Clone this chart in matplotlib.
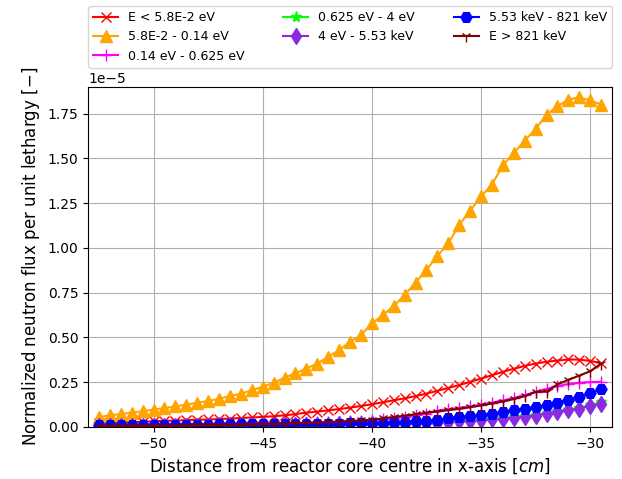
import numpy as np
import matplotlib
matplotlib.use('Agg')
import matplotlib.pyplot as plt

# distance from core centre [cm]
x_cm = [-52.5, -52.0, -51.5, -51.0, -50.5, -50.0, -49.5, -49.0, -48.5, -48.0,
        -47.5, -47.0, -46.5, -46.0, -45.5, -45.0, -44.5, -44.0, -43.5, -43.0,
        -42.5, -42.0, -41.5, -41.0, -40.5, -40.0, -39.5, -39.0, -38.5, -38.0,
        -37.5, -37.0, -36.5, -36.0, -35.5, -35.0, -34.5, -34.0, -33.5, -33.0,
        -32.5, -32.0, -31.5, -31.0, -30.5, -30.0, -29.5]

# flux values in units of 1e-5
flux_g1 = [0.022, 0.023, 0.025, 0.027, 0.029, 0.032, 0.034, 0.036, 0.038, 0.040,
           0.042, 0.044, 0.047, 0.050, 0.053, 0.056, 0.060, 0.065, 0.072, 0.080,
           0.086, 0.093, 0.100, 0.108, 0.117, 0.127, 0.138, 0.149, 0.160, 0.172,
           0.186, 0.202, 0.218, 0.234, 0.252, 0.270, 0.289, 0.308, 0.325, 0.341,
           0.354, 0.364, 0.371, 0.377, 0.376, 0.369, 0.356]
flux_g2 = [0.055, 0.065, 0.072, 0.080, 0.088, 0.097, 0.106, 0.115, 0.125, 0.135,
           0.145, 0.158, 0.172, 0.186, 0.205, 0.225, 0.246, 0.275, 0.300, 0.326,
           0.354, 0.392, 0.429, 0.476, 0.513, 0.578, 0.625, 0.675, 0.737, 0.806,
           0.877, 0.955, 1.026, 1.129, 1.207, 1.287, 1.353, 1.461, 1.530, 1.599,
           1.664, 1.744, 1.791, 1.828, 1.841, 1.823, 1.800]
flux_g3 = [0.008, 0.008, 0.009, 0.009, 0.010, 0.010, 0.011, 0.011, 0.012, 0.012,
           0.013, 0.013, 0.014, 0.015, 0.016, 0.017, 0.018, 0.020, 0.022, 0.024,
           0.026, 0.028, 0.030, 0.033, 0.035, 0.038, 0.044, 0.050, 0.057, 0.065,
           0.074, 0.092, 0.099, 0.107, 0.115, 0.125, 0.136, 0.148, 0.162, 0.178,
           0.195, 0.212, 0.228, 0.240, 0.247, 0.251, 0.252]
flux_g4 = [0.007, 0.007, 0.007, 0.008, 0.008, 0.008, 0.008, 0.009, 0.009, 0.009,
           0.009, 0.010, 0.010, 0.010, 0.011, 0.011, 0.011, 0.012, 0.012, 0.013,
           0.013, 0.014, 0.015, 0.015, 0.016, 0.017, 0.018, 0.019, 0.021, 0.022,
           0.024, 0.026, 0.029, 0.032, 0.036, 0.040, 0.045, 0.050, 0.056, 0.062,
           0.069, 0.078, 0.087, 0.097, 0.108, 0.122, 0.138]
flux_g5 = [0.006, 0.006, 0.006, 0.007, 0.007, 0.007, 0.007, 0.008, 0.008, 0.008,
           0.008, 0.009, 0.009, 0.009, 0.010, 0.010, 0.010, 0.011, 0.011, 0.012,
           0.012, 0.013, 0.014, 0.014, 0.015, 0.016, 0.017, 0.018, 0.019, 0.021,
           0.023, 0.025, 0.028, 0.031, 0.034, 0.037, 0.042, 0.047, 0.052, 0.056,
           0.064, 0.075, 0.084, 0.093, 0.103, 0.118, 0.131]
flux_g6 = [0.012, 0.012, 0.012, 0.012, 0.012, 0.012, 0.012, 0.013, 0.013, 0.013,
           0.013, 0.014, 0.014, 0.014, 0.015, 0.015, 0.016, 0.016, 0.017, 0.017,
           0.018, 0.018, 0.019, 0.020, 0.021, 0.022, 0.024, 0.026, 0.029, 0.032,
           0.036, 0.041, 0.048, 0.054, 0.060, 0.067, 0.075, 0.084, 0.093, 0.103,
           0.112, 0.121, 0.136, 0.149, 0.168, 0.187, 0.211]
flux_g7 = [0.004, 0.004, 0.005, 0.005, 0.006, 0.006, 0.007, 0.007, 0.008, 0.009,
           0.009, 0.010, 0.011, 0.012, 0.013, 0.015, 0.016, 0.018, 0.020, 0.022,
           0.024, 0.027, 0.030, 0.033, 0.037, 0.041, 0.048, 0.056, 0.063, 0.071,
           0.080, 0.086, 0.094, 0.101, 0.110, 0.120, 0.131, 0.142, 0.156, 0.172,
           0.196, 0.197, 0.238, 0.263, 0.287, 0.311, 0.354]

labels = ['E < 5.8E-2 eV', '5.8E-2 - 0.14 eV', '0.14 eV - 0.625 eV',
          '0.625 eV - 4 eV', '4 eV - 5.53 keV', '5.53 keV - 821 keV',
          'E > 821 keV']

series = [flux_g1, flux_g2, flux_g3, flux_g4, flux_g5, flux_g6, flux_g7]
styles = [('red', 'x', 7), ('orange', '^', 8), ('magenta', '+', 8),
          ('lime', '*', 8), ('blueviolet', 'd', 8.5), ('blue', 'H', 8),
          ('maroon', '1', 8)]

fig, ax = plt.subplots(figsize=(6.22, 4.79), dpi=100)
fig.subplots_adjust(left=0.1415, right=0.984, top=0.819, bottom=0.1086)

for vals, lab, (c, m, ms) in zip(series, labels, styles):
    ax.plot(x_cm, np.array(vals) * 1e-5, color=c, marker=m, markersize=ms,
            linewidth=1.5, label=lab)

ax.set_xlim(-53.0, -29.0)
ax.set_ylim(0, 1.9e-5)
ax.grid(True)
ax.set_xlabel('Distance from reactor core centre in x-axis [$cm$]', fontsize=12)
ax.set_ylabel('Normalized neutron flux per unit lethargy [$-$]', fontsize=12)
ax.legend(loc='lower left', bbox_to_anchor=(0, 1.056, 1, 0.2), mode='expand',
          ncol=3, fontsize=9, borderaxespad=0)

fig.savefig('out.png', dpi=100)
